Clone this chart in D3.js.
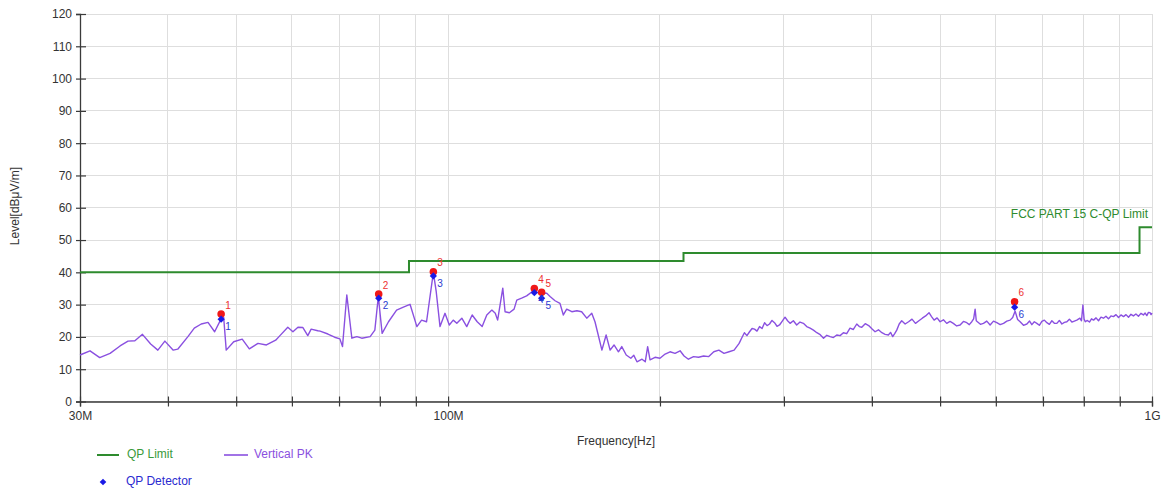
<!DOCTYPE html>
<html>
<head>
<meta charset="utf-8">
<script src="https://cdn.jsdelivr.net/npm/d3@7"></script>
<style>
  html, body { margin: 0; padding: 0; background: #fff; }
  svg { display: block; font-family: "Liberation Sans", Arial, sans-serif; }
</style>
</head>
<body>
<svg id="chart" width="1165" height="493"></svg>
<script>
// ---------------- data ----------------
const yTicks = [0, 10, 20, 30, 40, 50, 60, 70, 80, 90, 100, 110, 120];
const xTicks = [30, 40, 50, 60, 70, 80, 90, 100, 200, 300, 400, 500, 600, 700, 800, 900, 1000];
const xTickLabels = { 30: "30M", 100: "100M", 1000: "1G" };

// QP limit steps [MHz, dBuV/m]
const limitFreq = [30, 88, 216, 960, 1000];
const limitLevel = [40, 43.5, 46, 54, 54];

// Final-measurement markers
const markerNo = [1, 2, 3, 4, 5, 6];
const markerFreq = [47.6, 79.7, 95.3, 132.6, 135.8, 638];
const markerPk = [27.1, 33.3, 40.2, 35.0, 33.8, 30.9];
const markerQp = [25.5, 32.0, 38.9, 33.7, 32.0, 29.2];

// Vertical PK trace [MHz, dBuV/m]
const pkTrace = [
[30.0,14.4],[31.0,15.7],[32.0,13.6],[33.1,14.9],[34.2,17.2],[35.1,18.7],[35.9,18.8],[36.8,20.8],[37.8,17.8],[38.7,15.9],
[39.6,18.7],[40.7,15.9],[41.3,16.2],[42.7,20.1],[43.6,22.7],[44.6,24.0],[45.6,24.5],[46.6,21.6],[47.5,25.2],[48.0,26.0],
[48.4,15.9],[49.6,18.5],[51.0,19.3],[52.2,16.3],[53.7,18.0],[55.2,17.5],[56.9,19.0],[57.7,20.4],[59.2,23.0],[60.2,21.6],
[61.2,23.0],[62.2,22.9],[63.2,20.4],[63.9,22.4],[65.3,21.9],[65.8,21.8],[67.5,20.9],[69.0,19.9],[70.2,19.4],[70.8,17.0],
[71.8,33.0],[73.0,19.6],[74.2,20.1],[75.4,19.6],[77.5,20.1],[78.7,22.1],[79.6,32.5],[80.6,21.1],[82.3,24.7],[84.5,28.3],
[86.4,29.2],[88.3,30.1],[90.3,23.2],[91.7,25.2],[93.2,24.7],[95.3,40.0],[96.2,34.0],[97.4,23.2],[99.0,27.3],[100.4,23.7],
[101.7,25.2],[102.9,24.2],[104.6,25.8],[106.3,23.2],[108.2,26.8],[110.0,24.7],[111.8,23.2],[113.5,26.8],[115.4,28.3],[116.7,27.3],
[117.6,25.2],[119.6,35.1],[120.5,27.8],[122.2,27.5],[124.1,28.6],[125.2,31.4],[127.2,32.0],[129.3,32.7],[132.2,34.3],[135.1,33.5],
[138.1,33.5],[139.6,32.5],[141.9,31.2],[144.2,30.4],[145.8,26.8],[147.4,28.6],[149.9,27.8],[152.4,28.1],[154.8,27.8],[157.4,25.8],
[160.0,27.3],[161.7,24.7],[163.0,21.6],[165.4,15.9],[167.7,20.6],[169.9,15.9],[172.1,17.5],[174.6,15.4],[176.5,17.0],[179.1,14.4],
[181.8,13.4],[183.6,14.3],[185.5,12.3],[188.6,13.1],[190.6,12.3],[192.1,17.0],[193.6,12.9],[196.8,13.7],[200.0,13.4],[203.4,14.7],
[206.7,15.4],[210.1,14.9],[213.6,15.7],[216.4,14.1],[219.5,13.1],[223.2,13.9],[226.9,13.7],[230.7,14.1],[234.6,13.9],[238.5,15.4],
[242.5,15.9],[246.6,14.9],[250.7,15.4],[254.9,15.9],[259.1,18.0],[261.2,19.6],[263.6,21.3],[265.8,20.4],[268.1,21.6],[270.3,22.6],
[272.5,22.4],[274.7,21.8],[277.0,23.2],[279.3,22.6],[281.6,24.4],[283.9,23.5],[286.2,24.0],[288.5,25.1],[290.9,24.4],[293.3,23.3],
[295.7,23.7],[298.4,24.9],[301.1,26.1],[303.6,25.0],[306.1,24.2],[309.4,25.0],[312.8,23.7],[316.2,24.6],[319.7,24.2],[323.2,23.2],
[326.8,22.7],[330.4,22.1],[334.1,21.3],[337.8,20.7],[341.5,19.6],[345.2,20.5],[348.9,20.1],[352.7,19.8],[356.6,20.6],[360.5,20.4],
[364.4,21.3],[368.4,21.0],[372.4,22.7],[376.5,22.3],[380.7,24.0],[383.9,23.2],[387.0,23.0],[391.4,24.1],[395.8,23.5],[400.0,22.5],
[404.2,21.6],[408.7,22.2],[413.3,21.3],[417.7,20.8],[422.2,20.6],[425.2,21.4],[428.2,20.1],[431.0,21.0],[433.9,22.1],[437.4,24.0],
[441.0,25.0],[446.0,24.0],[451.0,24.7],[456.1,25.5],[461.3,24.2],[466.5,25.0],[471.7,25.8],[476.9,26.5],[482.2,27.5],[486.2,26.3],
[490.3,25.2],[495.1,25.9],[500.0,24.7],[505.5,25.3],[511.0,24.2],[516.5,24.8],[522.1,24.2],[527.9,23.4],[533.8,23.7],[539.7,24.8],
[545.6,24.4],[550.1,23.8],[554.6,24.7],[558.0,25.6],[560.7,28.6],[562.8,25.0],[564.9,24.7],[570.5,23.9],[576.2,24.2],[582.5,24.9],
[588.9,23.7],[595.4,24.9],[601.9,24.4],[608.6,23.8],[615.3,24.2],[622.0,24.9],[628.7,25.2],[634.0,26.0],[639.1,28.0],[644.3,25.4],
[649.6,24.7],[656.8,23.6],[664.1,24.0],[670.0,24.9],[675.0,23.8],[680.5,24.7],[686.1,24.2],[691.8,23.6],[697.5,24.8],[703.2,25.2],
[709.0,24.4],[714.8,23.9],[720.7,25.0],[726.6,24.2],[732.5,24.2],[738.6,25.1],[744.7,24.0],[750.8,24.5],[757.0,24.7],[763.2,25.5],
[769.5,24.6],[775.7,24.9],[782.0,25.2],[790.0,25.8],[794.0,25.0],[797.7,29.9],[800.8,25.5],[803.9,24.7],[809.4,25.1],[815.0,24.6],
[820.5,25.6],[826.0,25.2],[832.7,25.9],[839.5,25.0],[846.3,26.1],[853.2,25.8],[860.2,26.4],[867.3,25.6],[874.4,26.5],[881.6,26.3],
[888.9,26.9],[896.2,26.0],[903.5,26.8],[911.0,26.3],[918.5,26.9],[926.0,26.1],[933.5,27.0],[941.0,26.5],[948.8,27.1],[956.6,26.4],
[964.4,27.3],[972.3,26.8],[977.8,27.4],[983.2,26.6],[988.5,27.6],[993.8,27.5],[997.0,26.9],[1000,27.4]
];

// ---------------- chart ----------------
const svg = d3.select("#chart");
const plotLeft = 80, plotRight = 1152, plotTop = 14, plotBottom = 401.5;

const x = d3.scaleLog().domain([30, 1000]).range([plotLeft, plotRight]);
const y = d3.scaleLinear().domain([0, 120]).range([plotBottom, plotTop]);

const gridColor = "#dedede";
const axisColor = "#3a3a3a";
const limitColor = "#2e8b2e";
const traceColor = "#8a50e0";

// grid
svg.append("g").selectAll("line").data(yTicks).join("line")
  .attr("x1", plotLeft).attr("x2", plotRight)
  .attr("y1", d => y(d)).attr("y2", d => y(d))
  .attr("stroke", gridColor).attr("stroke-width", 1).attr("shape-rendering", "crispEdges");
svg.append("g").selectAll("line").data(xTicks.slice(1)).join("line")
  .attr("x1", d => x(d)).attr("x2", d => x(d))
  .attr("y1", plotTop).attr("y2", plotBottom)
  .attr("stroke", gridColor).attr("stroke-width", 1).attr("shape-rendering", "crispEdges");

// axes
const yAxis = svg.append("g").attr("transform", `translate(${plotLeft},0)`)
  .call(d3.axisLeft(y).tickValues(yTicks).tickSize(4).tickPadding(4));
yAxis.selectAll(".tick line").attr("x1", 6).attr("x2", -4);
const xAxis = svg.append("g").attr("transform", `translate(0,${plotBottom})`)
  .call(d3.axisBottom(x).tickValues(xTicks).tickSize(5).tickFormat(d => xTickLabels[d] || ""));
xAxis.selectAll(".tick line").attr("y1", -5).attr("y2", 5);
xAxis.selectAll(".tick text").attr("y", 10);
[yAxis, xAxis].forEach(g => {
  g.select(".domain").attr("stroke", axisColor).attr("stroke-width", 1.3);
  g.selectAll(".tick line").attr("stroke", axisColor).attr("stroke-width", 1.2);
  g.selectAll(".tick text").attr("fill", "#333").attr("font-size", 12)
    .attr("font-family", "'Liberation Sans', Arial, sans-serif");
});

// limit line
const limitPts = limitFreq.map((f, i) => [f, limitLevel[i]]);
svg.append("path").datum(limitPts)
  .attr("fill", "none").attr("stroke", limitColor).attr("stroke-width", 2)
  .attr("d", d3.line().x(d => x(d[0])).y(d => y(d[1])).curve(d3.curveStepAfter));
svg.append("text").attr("x", x(1000) - 4).attr("y", y(58) + 1)
  .attr("text-anchor", "end").attr("dominant-baseline", "middle")
  .attr("fill", limitColor).attr("font-size", 12).text("FCC PART 15 C-QP Limit");

// PK trace
svg.append("path").datum(pkTrace)
  .attr("fill", "none").attr("stroke", traceColor).attr("stroke-width", 1.4)
  .attr("stroke-linejoin", "round")
  .attr("d", d3.line().x(d => x(d[0])).y(d => y(d[1])));

// markers
const mk = markerNo.map((n, i) => ({ n, f: markerFreq[i], pk: markerPk[i], qp: markerQp[i] }));
const mg = svg.append("g");
mg.selectAll("path.pk").data(mk).join("path").attr("class", "pk")
  .attr("transform", d => `translate(${x(d.f)},${y(d.pk)})`)
  .attr("d", d3.symbol().type(d3.symbolCircle).size(45)).attr("fill", "#f01818");
mg.selectAll("path.qp").data(mk).join("path").attr("class", "qp")
  .attr("transform", d => `translate(${x(d.f)},${y(d.qp)}) rotate(45)`)
  .attr("d", d3.symbol().type(d3.symbolSquare).size(26)).attr("fill", "#1a1ae6");
mg.selectAll("text.pkn").data(mk).join("text").attr("class", "pkn")
  .attr("x", d => x(d.f) + 4).attr("y", d => y(d.pk) - 8)
  .attr("dominant-baseline", "middle").attr("font-size", 10).attr("fill", "#ee3030")
  .text(d => d.n);
mg.selectAll("text.qpn").data(mk).join("text").attr("class", "qpn")
  .attr("x", d => x(d.f) + 4).attr("y", d => y(d.qp) + 8)
  .attr("dominant-baseline", "middle").attr("font-size", 10).attr("fill", "#2a3ad0")
  .text(d => d.n);

// axis titles
svg.append("text").attr("transform", "translate(19,206) rotate(-90)")
  .attr("text-anchor", "middle").attr("font-size", 12).attr("fill", "#333")
  .text("Level[dBμV/m]");
svg.append("text").attr("x", 616).attr("y", 445).attr("text-anchor", "middle")
  .attr("font-size", 12).attr("fill", "#333").text("Frequency[Hz]");

// legend
const lg = svg.append("g");
lg.append("line").attr("x1", 97).attr("x2", 119).attr("y1", 455).attr("y2", 455)
  .attr("stroke", limitColor).attr("stroke-width", 2);
lg.append("text").attr("x", 127).attr("y", 455).attr("dominant-baseline", "middle")
  .attr("font-size", 12).attr("fill", "#3a9a3a").text("QP Limit");
lg.append("line").attr("x1", 224).attr("x2", 248).attr("y1", 455).attr("y2", 455)
  .attr("stroke", traceColor).attr("stroke-width", 1.6);
lg.append("text").attr("x", 254).attr("y", 455).attr("dominant-baseline", "middle")
  .attr("font-size", 12).attr("fill", "#8a50e0").text("Vertical PK");
lg.append("path").attr("transform", "translate(103,482) rotate(45)")
  .attr("d", d3.symbol().type(d3.symbolSquare).size(22)).attr("fill", "#1a1ae6");
lg.append("text").attr("x", 126).attr("y", 482).attr("dominant-baseline", "middle")
  .attr("font-size", 12).attr("fill", "#2a2ad0").text("QP Detector");
</script>
</body>
</html>
